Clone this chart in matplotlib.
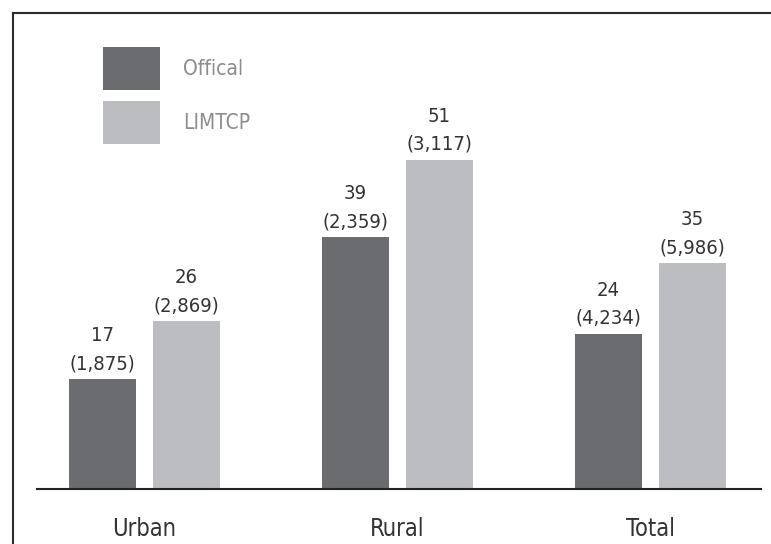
import matplotlib
matplotlib.use("Agg")
import matplotlib.pyplot as plt
from matplotlib.lines import Line2D
import numpy as np

# data
categories = ["Urban", "Rural", "Total"]
official_pct = [17, 39, 24]
limtcp_pct = [26, 51, 35]
official_n = [1875, 2359, 4234]
limtcp_n = [2869, 3117, 5986]
series_names = ["Offical", "LIMTCP"]

dark = "#6b6c70"
light = "#bcbdc1"

plt.rcParams['font.family'] = ['DejaVu Sans']
plt.rcParams['font.stretch'] = 'condensed'

W, H = 771, 544
fig = plt.figure(figsize=(W / 100, H / 100), dpi=100)

# axes: baseline at y=489px, spans x 37..761
ax = fig.add_axes([37 / W, 1 - 489 / H, 724 / W, (489 - 20) / H])
px_unit = 253.0
ax.set_xlim(-(144.5 - 37) / px_unit, (761 - 144.5) / px_unit)
ax.set_ylim(0, (489 - 20) / 6.45)

x = np.arange(len(categories))
bw = 67 / px_unit
off = 42 / px_unit
b1 = ax.bar(x - off, official_pct, bw, color=dark, label=series_names[0])
b2 = ax.bar(x + off, limtcp_pct, bw, color=light, label=series_names[1])

for bars, pcts, ns in [(b1, official_pct, official_n), (b2, limtcp_pct, limtcp_n)]:
    for r, p, n in zip(bars, pcts, ns):
        ax.annotate(f"{p}\n({n:,})", (r.get_x() + r.get_width() / 2, r.get_height()),
                    xytext=(0, 4.5), textcoords="offset points", ha="center", va="bottom",
                    fontsize=14.5, color="#333333", linespacing=1.6)

for s in ["top", "right", "left"]:
    ax.spines[s].set_visible(False)
ax.spines["bottom"].set_color("#222222")
ax.spines["bottom"].set_linewidth(1.5)
ax.set_yticks([])
ax.set_xticks(x)
ax.set_xticklabels(categories, fontsize=17, color="#333333")
ax.tick_params(axis="x", length=0, pad=20)

fs = 15
fpx = fs * 100 / 72
ax.legend(loc="upper left", bbox_to_anchor=(103 / W, 1 - 47 / H), bbox_transform=fig.transFigure,
          frameon=False, fontsize=fs, borderpad=0, borderaxespad=0,
          handlelength=57 / fpx, handleheight=2.8,
          handletextpad=23 / fpx, labelspacing=11 / fpx,
          labelcolor="#8c8c8c")

# frame lines (top and left only visible in the crop)
fig.add_artist(Line2D([12.5 / W, 1], [1 - 12.5 / H, 1 - 12.5 / H], transform=fig.transFigure,
                      color="#2b2b2b", lw=1.5))
fig.add_artist(Line2D([12.5 / W, 12.5 / W], [0, 1 - 12.5 / H], transform=fig.transFigure,
                      color="#2b2b2b", lw=1.5))

fig.savefig("out.png", dpi=100)
